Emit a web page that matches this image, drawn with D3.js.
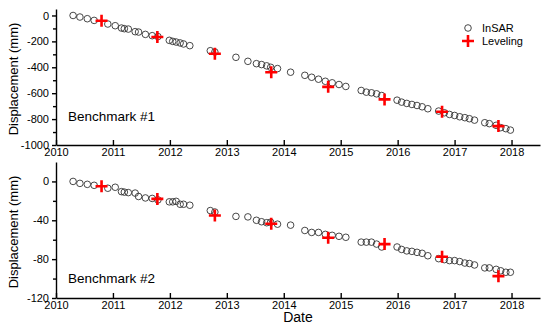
<!DOCTYPE html>
<html>
<head>
<meta charset="utf-8">
<script src="https://cdn.jsdelivr.net/npm/d3@7"></script>
<style>
  body { margin: 0; background: #fff; }
  text { font-family: "Liberation Sans", Arial, sans-serif; fill: #000; }
</style>
</head>
<body>
<div id="chart"></div>
<script>
// InSAR acquisition dates (decimal year), shared by both benchmarks
var insarDates = [2010.30, 2010.42, 2010.55, 2010.67, 2010.91, 2011.04, 2011.15, 2011.20, 2011.27, 2011.39,
  2011.45, 2011.57, 2011.69, 2011.79, 2011.99, 2012.05, 2012.11, 2012.18, 2012.24, 2012.35,
  2012.71, 2012.79, 2013.16, 2013.37, 2013.52, 2013.61, 2013.70, 2013.77, 2013.89, 2014.12,
  2014.37, 2014.49, 2014.61, 2014.73, 2014.85, 2014.97, 2015.09, 2015.36, 2015.45, 2015.54,
  2015.63, 2015.72, 2015.99, 2016.07, 2016.16, 2016.25, 2016.34, 2016.43, 2016.53, 2016.72,
  2016.82, 2016.91, 2017.00, 2017.09, 2017.18, 2017.26, 2017.35, 2017.53, 2017.61, 2017.73,
  2017.81, 2017.90, 2017.98];

var insarBM1 = [0, -12, -25, -38, -66, -79, -97, -102, -105, -125,
  -128, -146, -156, -163, -192, -200, -205, -212, -220, -233,
  -272, -282, -323, -354, -372, -379, -389, -400, -410, -438,
  -462, -477, -492, -508, -520, -533, -548, -579, -592, -597,
  -605, -618, -654, -669, -679, -687, -695, -705, -720, -738,
  -751, -764, -772, -782, -789, -797, -808, -828, -835, -848,
  -866, -874, -885];

var insarBM2 = [0, -2, -3, -4, -7, -6, -10.5, -11, -11.5, -12,
  -15.5, -17, -17.5, -19, -21, -21, -20.5, -23.5, -23.5, -24.5,
  -30, -31.5, -36, -36.5, -40, -41.5, -42.5, -42, -44, -45,
  -50.5, -52.5, -52.5, -54.5, -55.5, -56.5, -57.5, -62.5, -62.5, -62.5,
  -64.5, -67.5, -67.5, -70, -71.5, -72, -73, -74, -76.5, -79.5,
  -80.5, -81.5, -81.5, -82.5, -84, -84.5, -86, -89, -89, -90.5,
  -92, -93.5, -93.5];

// leveling surveys
var levelDates = [2010.80, 2011.78, 2012.79, 2013.78, 2014.78, 2015.77, 2016.78, 2017.77];
var levelBM1 = [-41, -166, -295, -438, -551, -648, -743, -854];
var levelBM2 = [-5, -18, -35, -43.5, -58, -64.5, -77.5, -97.5];

var yearTicks = [2010, 2011, 2012, 2013, 2014, 2015, 2016, 2017, 2018];
var ticksBM1 = [0, -200, -400, -600, -800, -1000];
var minorBM1 = [-100, -300, -500, -700, -900];
var ticksBM2 = [0, -40, -80, -120];
var minorBM2 = [-20, -60, -100];

var W = 550, H = 330;
var svg = d3.select("#chart").append("svg")
  .attr("width", W).attr("height", H);

var x = d3.scaleLinear().domain([2010, 2018.5]).range([56, 540]);

var panels = [
  {top: 9, bottom: 145, domain: [-1000, 50], ticks: ticksBM1, minor: minorBM1,
   insar: insarBM1, level: levelBM1, name: "Benchmark #1", labelY: 121},
  {top: 162, bottom: 298, domain: [-120, 20], ticks: ticksBM2, minor: minorBM2,
   insar: insarBM2, level: levelBM2, name: "Benchmark #2", labelY: 283}
];

var crossPath = "M-6,0H6M0,-6V6";

panels.forEach(function(p) {
  var y = d3.scaleLinear().domain(p.domain).range([p.bottom, p.top]);
  var g = svg.append("g");

  // x axis, ticks pointing up
  var xa = g.append("g")
    .attr("transform", "translate(0," + p.bottom + ")")
    .call(d3.axisBottom(x).tickValues(yearTicks).tickFormat(d3.format("d"))
      .tickSizeInner(-5).tickSizeOuter(0).tickPadding(3));
  xa.selectAll("text").style("font-size", "11px");

  // y axis
  var ya = g.append("g")
    .attr("transform", "translate(56,0)")
    .call(d3.axisLeft(y).tickValues(p.ticks).tickFormat(function(d) { return String(d); })
      .tickSize(4).tickSizeOuter(0).tickPadding(3));
  ya.selectAll("text").style("font-size", "11px");

  g.append("g")
    .attr("transform", "translate(56,0)")
    .call(d3.axisLeft(y).tickValues(p.minor).tickFormat("").tickSize(3).tickSizeOuter(0))
    .select(".domain").remove();

  g.selectAll(".domain, .tick line").attr("stroke", "#000").attr("stroke-width", 1.4);

  // y axis label
  g.append("text")
    .attr("transform", "translate(18," + ((p.top + p.bottom) / 2 + 2) + ") rotate(-90)")
    .attr("text-anchor", "middle")
    .style("font-size", "13px")
    .text("Displacement (mm)");

  // benchmark label
  g.append("text")
    .attr("x", 68).attr("y", p.labelY)
    .style("font-size", "13.5px")
    .text(p.name);

  // InSAR circles
  g.append("g").selectAll("circle")
    .data(insarDates.map(function(d, i) { return [d, p.insar[i]]; }))
    .enter().append("circle")
    .attr("cx", function(d) { return x(d[0]); })
    .attr("cy", function(d) { return y(d[1]); })
    .attr("r", 3.3)
    .attr("fill", "none")
    .attr("stroke", "#333")
    .attr("stroke-width", 0.9);

  // leveling crosses
  g.append("g").selectAll("path")
    .data(levelDates.map(function(d, i) { return [d, p.level[i]]; }))
    .enter().append("path")
    .attr("d", crossPath)
    .attr("transform", function(d) { return "translate(" + x(d[0]) + "," + y(d[1]) + ")"; })
    .attr("stroke", "#ff0000")
    .attr("stroke-width", 2.6)
    .attr("fill", "none");
});

// x axis title
svg.append("text")
  .attr("x", 298).attr("y", 322)
  .attr("text-anchor", "middle")
  .style("font-size", "14px")
  .text("Date");

// legend
var legend = svg.append("g");
legend.append("circle")
  .attr("cx", 468).attr("cy", 28).attr("r", 3.3)
  .attr("fill", "none").attr("stroke", "#333").attr("stroke-width", 0.9);
legend.append("text")
  .attr("x", 482).attr("y", 32)
  .style("font-size", "11px")
  .text("InSAR");
legend.append("path")
  .attr("d", crossPath)
  .attr("transform", "translate(468,41)")
  .attr("stroke", "#ff0000").attr("stroke-width", 2.6).attr("fill", "none");
legend.append("text")
  .attr("x", 482).attr("y", 45)
  .style("font-size", "11px")
  .text("Leveling");
</script>
</body>
</html>
